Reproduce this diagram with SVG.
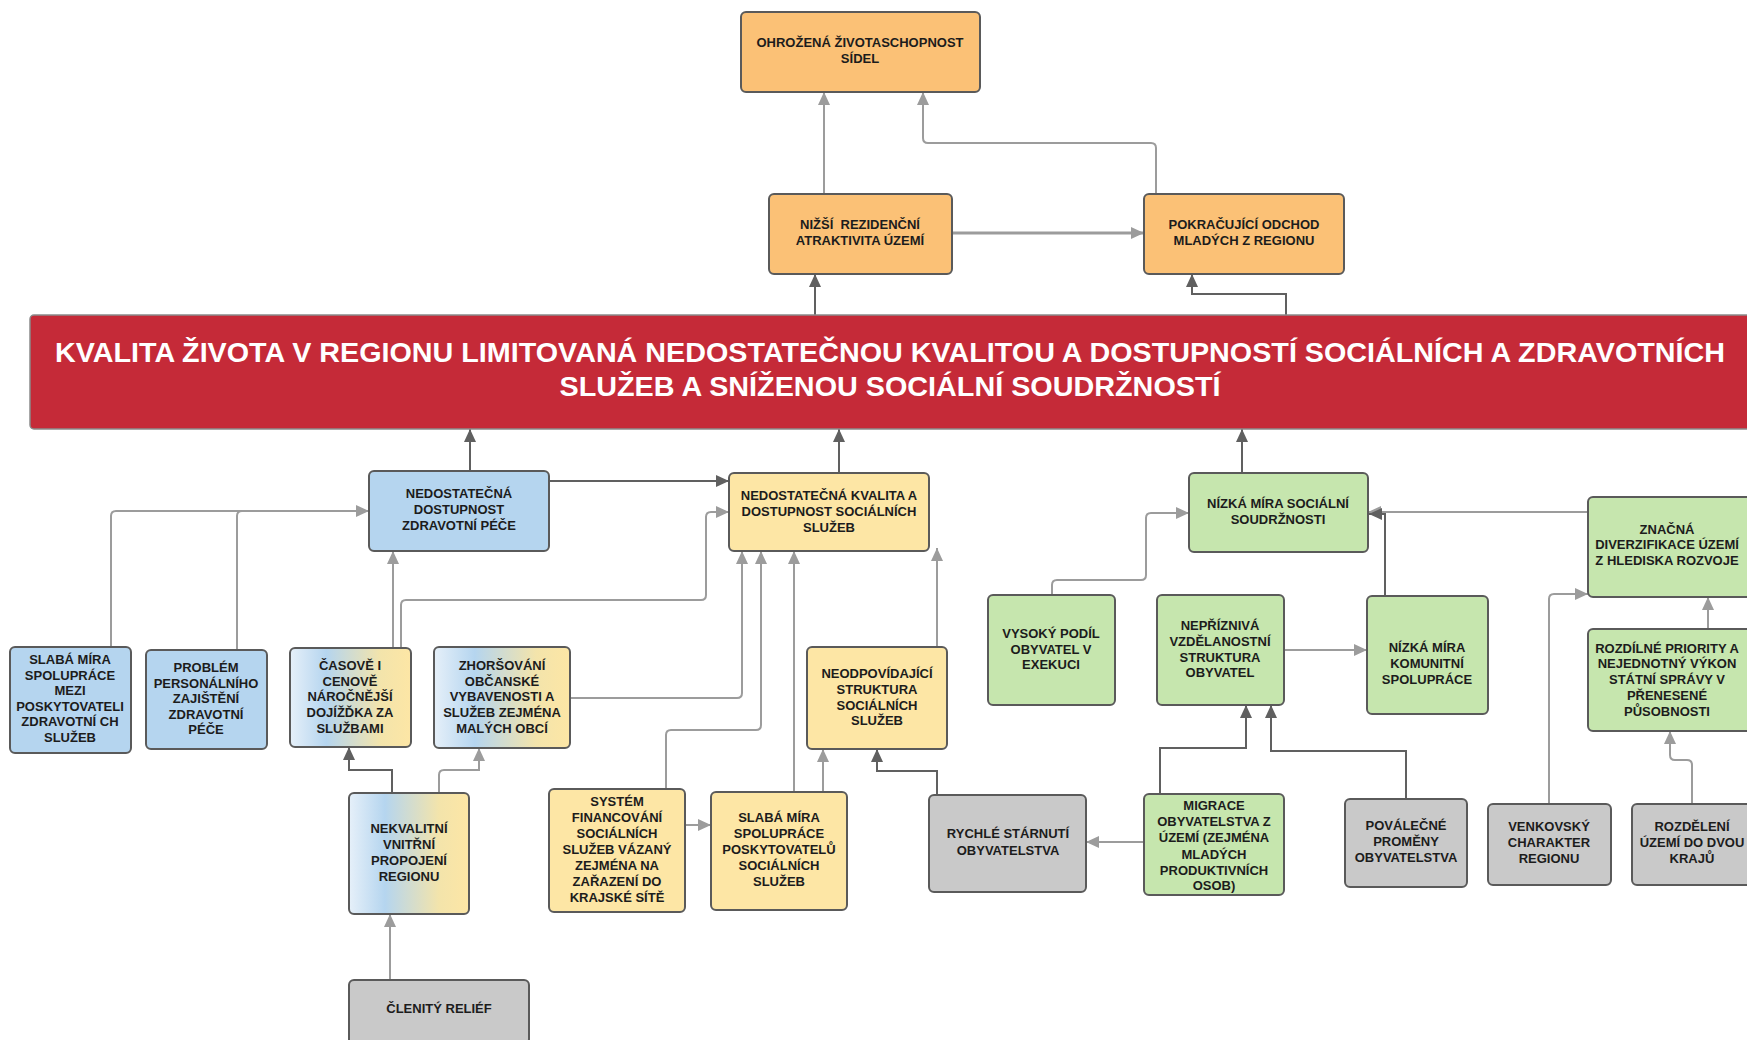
<svg xmlns="http://www.w3.org/2000/svg" width="1747" height="1040" viewBox="0 0 1747 1040">
<style>
.box{stroke:#5a5a5a;stroke-width:2}
.or{fill:#FBC176}.bl{fill:#B5D5EF}.ye{fill:#FDE6A5}.gr{fill:#C6E6AE}.gy{fill:#C9C9C9}.gd{fill:url(#bg)}
.t{font-family:'Liberation Sans',Arial,sans-serif;font-weight:bold;font-size:13px;fill:#1c1c1c;text-anchor:middle}
.bt{font-family:'Liberation Sans',Arial,sans-serif;font-weight:bold;font-size:28px;fill:#ffffff;text-anchor:middle}
.cl{fill:none;stroke:#9c9c9c;stroke-width:2;marker-end:url(#al)}
.cd{fill:none;stroke:#606060;stroke-width:2;marker-end:url(#ad)}
</style>
<defs>
<linearGradient id="bg" x1="0" y1="0" x2="1" y2="0">
<stop offset="0" stop-color="#E6F0F9"/>
<stop offset="0.3" stop-color="#B5D5EF"/>
<stop offset="0.75" stop-color="#F3E4AB"/>
<stop offset="1" stop-color="#FDE6A5"/>
</linearGradient>
<marker id="al" markerUnits="userSpaceOnUse" markerWidth="14" markerHeight="12" refX="13" refY="6" orient="auto"><path d="M0,0 L13,6 L0,12 z" fill="#9c9c9c"/></marker>
<marker id="ad" markerUnits="userSpaceOnUse" markerWidth="14" markerHeight="12" refX="13" refY="6" orient="auto"><path d="M0,0 L13,6 L0,12 z" fill="#606060"/></marker>
</defs>
<rect width="1747" height="1040" fill="#ffffff"/>
<g id="connectors">
<path class="cl" d="M824,194 V92"/>
<path class="cl" d="M1156,194 V148 Q1156,143 1151,143 H928 Q923,143 923,138 V92"/>
<path class="cl" d="M952,233 H1144" style="stroke-width:3"/>
<path class="cd" d="M815,315 V274"/>
<path class="cd" d="M1286,315 V294 H1192 V274"/>
<path class="cd" d="M470,471 V429"/>
<path class="cd" d="M839,473 V429"/>
<path class="cd" d="M1242,473 V429"/>
<path class="cd" d="M549,481 H729"/>
<path class="cl" d="M111,647 V516 Q111,511 116,511 H369"/>
<path class="cl" style="marker-end:none" d="M237,650 V516 Q237,511 242,511 H300"/>
<path class="cl" d="M393,648 V551"/>
<path class="cl" d="M401,648 V605 Q401,600 406,600 H701 Q706,600 706,595 V517 Q706,512 711,512 H729"/>
<path class="cl" d="M570,698 H737 Q742,698 742,693 V551"/>
<path class="cl" d="M666,789 V735 Q666,730 671,730 H756 Q761,730 761,725 V551"/>
<path class="cl" d="M794,792 V551"/>
<path class="cl" d="M937,647 V548"/>
<path class="cl" d="M823,792 V749"/>
<path class="cd" d="M937,795 V771 H877 V749"/>
<path class="cd" d="M392,793 V770 H349 V747"/>
<path class="cl" d="M439,793 V775 Q439,770 444,770 H479 V748"/>
<path class="cl" d="M390,980 V914"/>
<path class="cl" d="M685,825 H711"/>
<path class="cl" d="M1052,595 V585 Q1052,580 1057,580 H1141 Q1146,580 1146,575 V518 Q1146,513 1151,513 H1189"/>
<path class="cl" d="M1284,650 H1367"/>
<path class="cd" d="M1160,794 V748 H1246 V705"/>
<path class="cd" d="M1406,799 V751 H1271 V705"/>
<path class="cl" d="M1144,842 H1086"/>
<path class="cl" d="M1588,512 H1368"/>
<path class="cd" d="M1385,596 V514 H1369"/>
<path class="cl" d="M1549,804 V599 Q1549,594 1554,594 H1588"/>
<path class="cl" d="M1708,629 V597"/>
<path class="cl" d="M1692,804 V765 Q1692,760 1687,760 H1675 Q1670,760 1670,755 V731"/>
</g>
<g id="n_ohrozena"><rect class="box or" x="741" y="12" width="239" height="80" rx="5"/><text class="t"><tspan x="860" y="47">OHROŽENÁ ŽIVOTASCHOPNOST</tspan><tspan x="860" y="63">SÍDEL</tspan></text></g>
<g id="n_nizsi"><rect class="box or" x="769" y="194" width="183" height="80" rx="5"/><text class="t" xml:space="preserve"><tspan x="860" y="229">NIŽŠÍ  REZIDENČNÍ</tspan><tspan x="860" y="245">ATRAKTIVITA ÚZEMÍ</tspan></text></g>
<g id="n_pokracujici"><rect class="box or" x="1144" y="194" width="200" height="80" rx="5"/><text class="t"><tspan x="1244" y="229">POKRAČUJÍCÍ ODCHOD</tspan><tspan x="1244" y="245">MLADÝCH Z REGIONU</tspan></text></g>
<g id="n_banner"><rect x="30" y="315" width="1725" height="114" rx="4" fill="#C52A38" stroke="#8a8a8a" stroke-width="1.5"/><text class="bt"><tspan x="890" y="362" textLength="1670" lengthAdjust="spacingAndGlyphs">KVALITA ŽIVOTA V REGIONU LIMITOVANÁ NEDOSTATEČNOU KVALITOU A DOSTUPNOSTÍ SOCIÁLNÍCH A ZDRAVOTNÍCH</tspan><tspan x="890" y="396" textLength="661" lengthAdjust="spacingAndGlyphs">SLUŽEB A SNÍŽENOU SOCIÁLNÍ SOUDRŽNOSTÍ</tspan></text></g>
<g id="n_zdrav"><rect class="box bl" x="369" y="471" width="180" height="80" rx="5"/><text class="t"><tspan x="459" y="498">NEDOSTATEČNÁ</tspan><tspan x="459" y="514">DOSTUPNOST</tspan><tspan x="459" y="530">ZDRAVOTNÍ PÉČE</tspan></text></g>
<g id="n_kvalita"><rect class="box ye" x="729" y="473" width="200" height="78" rx="5"/><text class="t"><tspan x="829" y="500">NEDOSTATEČNÁ KVALITA A</tspan><tspan x="829" y="516">DOSTUPNOST SOCIÁLNÍCH</tspan><tspan x="829" y="532">SLUŽEB</tspan></text></g>
<g id="n_soudrznost"><rect class="box gr" x="1189" y="473" width="179" height="79" rx="5"/><text class="t"><tspan x="1278" y="508">NÍZKÁ MÍRA SOCIÁLNÍ</tspan><tspan x="1278" y="524">SOUDRŽNOSTI</tspan></text></g>
<g id="n_znacna"><rect class="box gr" x="1588" y="497" width="164" height="100" rx="5"/><text class="t"><tspan x="1667" y="534">ZNAČNÁ</tspan><tspan x="1667" y="549">DIVERZIFIKACE ÚZEMÍ</tspan><tspan x="1667" y="565">Z HLEDISKA ROZVOJE</tspan></text></g>
<g id="n_slaba_zdrav"><rect class="box bl" x="10" y="647" width="121" height="106" rx="5"/><text class="t"><tspan x="70" y="664">SLABÁ MÍRA</tspan><tspan x="70" y="680">SPOLUPRÁCE</tspan><tspan x="70" y="695">MEZI</tspan><tspan x="70" y="711">POSKYTOVATELI</tspan><tspan x="70" y="726">ZDRAVOTNÍ CH</tspan><tspan x="70" y="742">SLUŽEB</tspan></text></g>
<g id="n_problem"><rect class="box bl" x="146" y="650" width="121" height="99" rx="5"/><text class="t"><tspan x="206" y="672">PROBLÉM</tspan><tspan x="206" y="688">PERSONÁLNÍHO</tspan><tspan x="206" y="703">ZAJIŠTĚNÍ</tspan><tspan x="206" y="719">ZDRAVOTNÍ</tspan><tspan x="206" y="734">PÉČE</tspan></text></g>
<g id="n_casove"><rect class="box gd" x="290" y="648" width="121" height="99" rx="5"/><text class="t"><tspan x="350" y="670">ČASOVĚ I</tspan><tspan x="350" y="686">CENOVĚ</tspan><tspan x="350" y="701">NÁROČNĚJŠÍ</tspan><tspan x="350" y="717">DOJÍŽĎKA ZA</tspan><tspan x="350" y="733">SLUŽBAMI</tspan></text></g>
<g id="n_zhorsovani"><rect class="box gd" x="434" y="647" width="136" height="101" rx="5"/><text class="t"><tspan x="502" y="670">ZHORŠOVÁNÍ</tspan><tspan x="502" y="686">OBČANSKÉ</tspan><tspan x="502" y="701">VYBAVENOSTI A</tspan><tspan x="502" y="717">SLUŽEB ZEJMÉNA</tspan><tspan x="502" y="733">MALÝCH OBCÍ</tspan></text></g>
<g id="n_neodpov"><rect class="box ye" x="807" y="647" width="140" height="102" rx="5"/><text class="t"><tspan x="877" y="678">NEODPOVÍDAJÍCÍ</tspan><tspan x="877" y="694">STRUKTURA</tspan><tspan x="877" y="710">SOCIÁLNÍCH</tspan><tspan x="877" y="725">SLUŽEB</tspan></text></g>
<g id="n_vysoky"><rect class="box gr" x="988" y="595" width="127" height="110" rx="5"/><text class="t"><tspan x="1051" y="638">VYSOKÝ PODÍL</tspan><tspan x="1051" y="654">OBYVATEL V</tspan><tspan x="1051" y="669">EXEKUCI</tspan></text></g>
<g id="n_nepriznava"><rect class="box gr" x="1157" y="595" width="127" height="110" rx="5"/><text class="t"><tspan x="1220" y="630">NEPŘÍZNIVÁ</tspan><tspan x="1220" y="646">VZDĚLANOSTNÍ</tspan><tspan x="1220" y="662">STRUKTURA</tspan><tspan x="1220" y="677">OBYVATEL</tspan></text></g>
<g id="n_komunitni"><rect class="box gr" x="1367" y="596" width="121" height="118" rx="5"/><text class="t"><tspan x="1427" y="652">NÍZKÁ MÍRA</tspan><tspan x="1427" y="668">KOMUNITNÍ</tspan><tspan x="1427" y="684">SPOLUPRÁCE</tspan></text></g>
<g id="n_rozdilne"><rect class="box gr" x="1588" y="629" width="164" height="102" rx="5"/><text class="t"><tspan x="1667" y="653">ROZDÍLNÉ PRIORITY A</tspan><tspan x="1667" y="668">NEJEDNOTNÝ VÝKON</tspan><tspan x="1667" y="684">STÁTNÍ SPRÁVY V</tspan><tspan x="1667" y="700">PŘENESENÉ</tspan><tspan x="1667" y="716">PŮSOBNOSTI</tspan></text></g>
<g id="n_nekvalitni"><rect class="box gd" x="349" y="793" width="120" height="121" rx="5"/><text class="t"><tspan x="409" y="833">NEKVALITNÍ</tspan><tspan x="409" y="849">VNITŘNÍ</tspan><tspan x="409" y="865">PROPOJENÍ</tspan><tspan x="409" y="881">REGIONU</tspan></text></g>
<g id="n_system"><rect class="box ye" x="549" y="789" width="136" height="123" rx="5"/><text class="t"><tspan x="617" y="806">SYSTÉM</tspan><tspan x="617" y="822">FINANCOVÁNÍ</tspan><tspan x="617" y="838">SOCIÁLNÍCH</tspan><tspan x="617" y="854">SLUŽEB VÁZANÝ</tspan><tspan x="617" y="870">ZEJMÉNA NA</tspan><tspan x="617" y="886">ZAŘAZENÍ DO</tspan><tspan x="617" y="902">KRAJSKÉ SÍTĚ</tspan></text></g>
<g id="n_slaba_soc"><rect class="box ye" x="711" y="792" width="136" height="118" rx="5"/><text class="t"><tspan x="779" y="822">SLABÁ MÍRA</tspan><tspan x="779" y="838">SPOLUPRÁCE</tspan><tspan x="779" y="854">POSKYTOVATELŮ</tspan><tspan x="779" y="870">SOCIÁLNÍCH</tspan><tspan x="779" y="886">SLUŽEB</tspan></text></g>
<g id="n_rychle"><rect class="box gy" x="929" y="795" width="157" height="97" rx="5"/><text class="t"><tspan x="1008" y="838">RYCHLÉ STÁRNUTÍ</tspan><tspan x="1008" y="855">OBYVATELSTVA</tspan></text></g>
<g id="n_migrace"><rect class="box gr" x="1144" y="794" width="140" height="101" rx="5"/><text class="t"><tspan x="1214" y="810">MIGRACE</tspan><tspan x="1214" y="826">OBYVATELSTVA Z</tspan><tspan x="1214" y="842">ÚZEMÍ (ZEJMÉNA</tspan><tspan x="1214" y="859">MLADÝCH</tspan><tspan x="1214" y="875">PRODUKTIVNÍCH</tspan><tspan x="1214" y="890">OSOB)</tspan></text></g>
<g id="n_povalecne"><rect class="box gy" x="1345" y="799" width="122" height="88" rx="5"/><text class="t"><tspan x="1406" y="830">POVÁLEČNÉ</tspan><tspan x="1406" y="846">PROMĚNY</tspan><tspan x="1406" y="862">OBYVATELSTVA</tspan></text></g>
<g id="n_venkovsky"><rect class="box gy" x="1488" y="804" width="123" height="81" rx="5"/><text class="t"><tspan x="1549" y="831">VENKOVSKÝ</tspan><tspan x="1549" y="847">CHARAKTER</tspan><tspan x="1549" y="863">REGIONU</tspan></text></g>
<g id="n_rozdeleni"><rect class="box gy" x="1632" y="804" width="120" height="81" rx="5"/><text class="t"><tspan x="1692" y="831">ROZDĚLENÍ</tspan><tspan x="1692" y="847">ÚZEMÍ DO DVOU</tspan><tspan x="1692" y="863">KRAJŮ</tspan></text></g>
<g id="n_clenity"><rect class="box gy" x="349" y="980" width="180" height="64" rx="5"/><text class="t"><tspan x="439" y="1013">ČLENITÝ RELIÉF</tspan></text></g>
</svg>
